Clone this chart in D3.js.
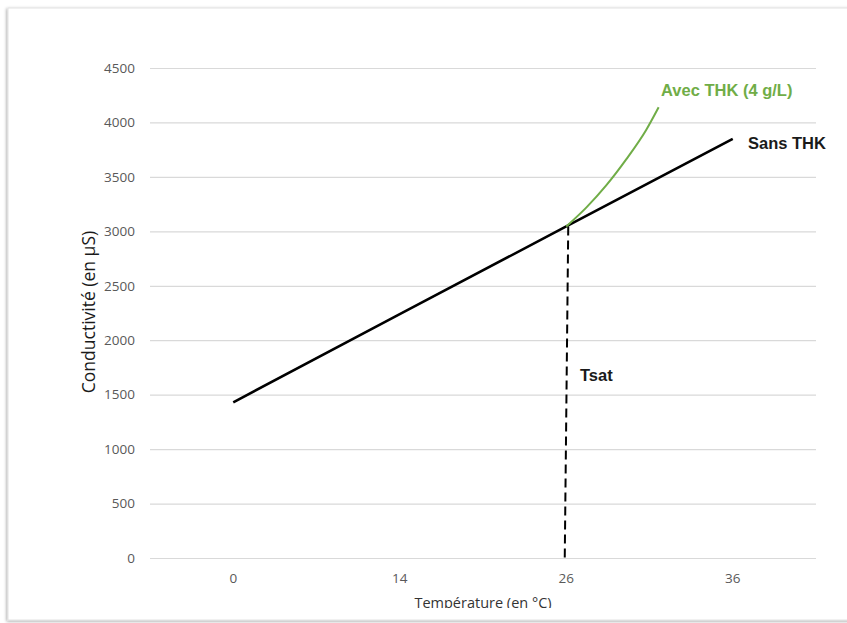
<!DOCTYPE html>
<html>
<head>
<meta charset="utf-8">
<script src="https://cdn.jsdelivr.net/npm/d3@7"></script>
<style>
  html, body { margin: 0; padding: 0; background: #fff; }
  svg { display: block; }
</style>
</head>
<body>
<svg id="chart" width="847" height="623"></svg>
<script>
// ---- data ----
const categories = ["0", "14", "26", "36"];            // Température (en °C)
const sansTHK = [1430, 2240, 3045, 3850];              // Conductivité (µS)
const avecTHK_temp = [26, 27.2, 28.4, 29.6, 30.8, 31.55];
const avecTHK_val  = [3045, 3218, 3422, 3661, 3931, 4140];
const tsatTemp = 26;
const tsatValue = 3045;
const yTicks = [0, 500, 1000, 1500, 2000, 2500, 3000, 3500, 4000, 4500];

const svg = d3.select("#chart");

// frame with shadow
const defs = svg.append("defs");
const f = defs.append("filter").attr("id", "sh").attr("x", "-5%").attr("y", "-5%").attr("width", "110%").attr("height", "110%");
f.append("feDropShadow").attr("dx", -1).attr("dy", 1).attr("stdDeviation", 1.6).attr("flood-color", "#000").attr("flood-opacity", 0.35);
defs.append("clipPath").attr("id", "clipBottom")
  .append("rect").attr("x", 0).attr("y", 0).attr("width", 847).attr("height", 608);

svg.append("rect").attr("x", 8).attr("y", 8).attr("width", 900).attr("height", 612)
  .attr("fill", "#fff").attr("stroke", "#e2e2e2").attr("stroke-width", 1).attr("filter", "url(#sh)");

const pL = 150, pR = 816, pT = 68, pB = 558;

const xBand = d3.scaleBand().domain(categories).range([pL, pR]).padding(0);
const xc = c => xBand(c) + xBand.bandwidth() / 2;
const xT = d3.scaleLinear().domain(categories.map(Number)).range(categories.map(xc));
const y = d3.scaleLinear().domain([0, 4500]).range([pB, pT]);

// y axis + grid
const yAxis = svg.append("g").attr("transform", `translate(${pL},0)`)
  .call(d3.axisLeft(y).tickValues(yTicks).tickSize(-(pR - pL)).tickPadding(15).tickFormat(d3.format("d")));
yAxis.select(".domain").remove();
yAxis.selectAll(".tick line").attr("stroke", "#d9d9d9").attr("stroke-width", 1.2);
yAxis.selectAll(".tick text").attr("fill", "#595959").style("font-family", "'Open Sans', sans-serif").style("font-size", "13.5px");

// x axis labels
const xAxis = svg.append("g").attr("transform", `translate(0,${pB})`)
  .call(d3.axisBottom(xBand).tickSize(0).tickPadding(15));
xAxis.select(".domain").remove();
xAxis.selectAll(".tick text").attr("fill", "#595959").style("font-family", "'Open Sans', sans-serif").style("font-size", "13.5px");

// Tsat dashed line
svg.append("line")
  .attr("x1", xT(tsatTemp) + 2).attr("x2", xT(tsatTemp) - 1.5)
  .attr("y1", y(tsatValue)).attr("y2", y(0))
  .attr("stroke", "#000").attr("stroke-width", 2).attr("stroke-dasharray", "9,5");

// Sans THK line
const line = d3.line().x(d => xc(d[0])).y(d => y(d[1]));
svg.append("path").datum(categories.map((c, i) => [c, sansTHK[i]]))
  .attr("d", line).attr("fill", "none").attr("stroke", "#000").attr("stroke-width", 2.6);

// Avec THK curve
const gLine = d3.line().x(d => xT(d[0])).y(d => y(d[1])).curve(d3.curveMonotoneX);
svg.append("path").datum(avecTHK_temp.map((t, i) => [t, avecTHK_val[i]]))
  .attr("d", gLine).attr("fill", "none").attr("stroke", "#70ad47").attr("stroke-width", 2);

// annotations
const lab = (txt, x, yy, col) => svg.append("text").attr("x", x).attr("y", yy).text(txt)
  .attr("fill", col).style("font-family", "'Liberation Sans', Arial, sans-serif")
  .style("font-weight", "bold").style("font-size", "16.5px");
lab("Avec THK (4 g/L)", 661, 96, "#70ad47");
lab("Sans THK", 748, 149, "#1a1a1a");
lab("Tsat", 580, 381, "#1a1a1a");

// axis titles
svg.append("text")
  .attr("transform", `translate(95,${(pT + pB) / 2 - 1}) rotate(-90)`)
  .attr("text-anchor", "middle")
  .attr("fill", "#1a1a1a").style("font-family", "'Open Sans', sans-serif").style("font-size", "17.5px")
  .text("Conductivité (en µS)");

svg.append("text")
  .attr("x", (pL + pR) / 2).attr("y", 608)
  .attr("text-anchor", "middle").attr("clip-path", "url(#clipBottom)")
  .attr("fill", "#333").style("font-family", "'Open Sans', sans-serif").style("font-size", "14.5px")
  .text("Température (en °C)");
</script>
</body>
</html>
